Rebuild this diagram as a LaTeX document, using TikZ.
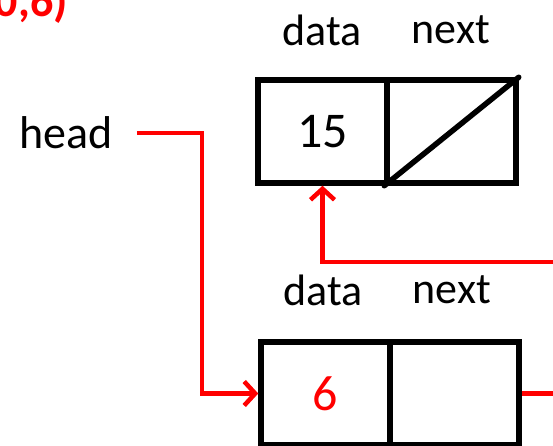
\documentclass[tikz,border=0pt]{standalone}
\usepackage{fontspec}
\setmainfont{Carlito}
\usetikzlibrary{arrows.meta}
\tikzset{
  cell/.style={draw,line width=5.5pt,minimum width=129pt,minimum height=103pt,inner sep=0pt,font=\fontsize{50}{54}\selectfont},
  field/.style={font=\fontsize{44}{50}\selectfont,inner sep=0pt},
  ptr/.style={red,line width=4.5pt,-{Straight Barb[length=11pt,width=24pt,line width=4.5pt]}},
}

\begin{document}
\begin{tikzpicture}[x=1pt,y=-1pt]
\useasboundingbox (0,0) rectangle (553,446);
\node[anchor=base east,inner sep=0pt,red,font=\fontsize{46}{50}\selectfont\bfseries] (call) at (68,17) {0,6)};
% node 15 (old first)
\node[field] (dtop) at (322,30) {data};
\node[field] (ntop) at (451,30) {next};
\node[cell] (d15) at (322.5,131.5) {15};
\node[cell] (n15) at (451.5,131.5) {};
\draw[line width=5.5pt,line cap=round] (n15.south west) -- (n15.north east);
% node 6 (new first)
\node[field] (dbot) at (323,290) {data};
\node[field] (nbot) at (452,290) {next};
\node[cell] (d6) at (325.5,393.5) {\textcolor{red}{6}};
\node[cell] (n6) at (454.5,393.5) {};
\node[font=\fontsize{46}{50}\selectfont,inner sep=0pt] (head) at (66,133) {head};
\coordinate (in) at (553,262);
\coordinate (out) at (553,393.5);
% pointers
\draw[ptr] ([xshift=24pt]head.east) -- ++(65,0) |- (d6.west);
\draw[ptr] (in) -| (d15.south);
\draw[red,line width=4.5pt] (n6.east) -- (out);
\end{tikzpicture}
\end{document}
